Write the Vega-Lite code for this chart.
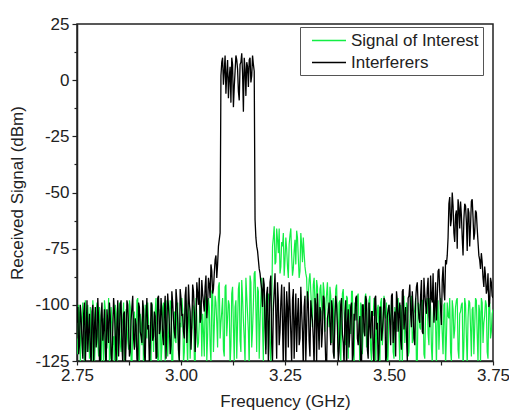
{
  "$schema": "https://vega.github.io/schema/vega-lite/v6.json",
  "width": 416,
  "height": 337,
  "autosize": {"type": "none"},
  "padding": {"left": 77, "top": 24, "right": 16, "bottom": 56},
  "background": "white",
  "config": {
    "view": {"stroke": "#222", "strokeWidth": 1.5},
    "font": "Liberation Sans"
  },
  "data": {"values": [
{"f":2.750,"g":-115,"b":-108},{"f":2.754,"g":-100,"b":-122},{"f":2.758,"g":-126,"b":-100},{"f":2.762,"g":-105,"b":-116},{"f":2.766,"g":-118,"b":-104},
{"f":2.770,"g":-98,"b":-127},{"f":2.774,"g":-121,"b":-98},{"f":2.778,"g":-109,"b":-112},{"f":2.782,"g":-101,"b":-119},{"f":2.786,"g":-127,"b":-103},
{"f":2.790,"g":-104,"b":-125},{"f":2.794,"g":-116,"b":-101},{"f":2.798,"g":-99,"b":-114},{"f":2.802,"g":-123,"b":-107},{"f":2.806,"g":-107,"b":-128},
{"f":2.810,"g":-112,"b":-99},{"f":2.814,"g":-129,"b":-111},{"f":2.818,"g":-102,"b":-120},{"f":2.822,"g":-119,"b":-102},{"f":2.826,"g":-97,"b":-117},
{"f":2.830,"g":-124,"b":-105},{"f":2.834,"g":-106,"b":-126},{"f":2.838,"g":-114,"b":-97},{"f":2.842,"g":-100,"b":-113},{"f":2.846,"g":-128,"b":-109},
{"f":2.850,"g":-103,"b":-123},{"f":2.854,"g":-117,"b":-100},{"f":2.858,"g":-110,"b":-118},{"f":2.862,"g":-99,"b":-104},{"f":2.866,"g":-125,"b":-129},
{"f":2.870,"g":-108,"b":-98},{"f":2.874,"g":-120,"b":-110},{"f":2.878,"g":-101,"b":-121},{"f":2.882,"g":-127,"b":-101},{"f":2.886,"g":-105,"b":-115},
{"f":2.890,"g":-113,"b":-106},{"f":2.894,"g":-98,"b":-124},{"f":2.898,"g":-122,"b":-99},{"f":2.902,"g":-104,"b":-112},{"f":2.906,"g":-118,"b":-117},
{"f":2.910,"g":-130,"b":-102},{"f":2.914,"g":-100,"b":-126},{"f":2.918,"g":-115,"b":-97},{"f":2.922,"g":-107,"b":-109},{"f":2.926,"g":-126,"b":-119},
{"f":2.930,"g":-99,"b":-100},{"f":2.934,"g":-121,"b":-114},{"f":2.938,"g":-103,"b":-105},{"f":2.942,"g":-111,"b":-123},{"f":2.946,"g":-128,"b":-96},
{"f":2.950,"g":-102,"b":-111},{"f":2.954,"g":-119,"b":-104},{"f":2.958,"g":-99,"b":-118},{"f":2.962,"g":-125,"b":-96},{"f":2.966,"g":-106,"b":-110},
{"f":2.970,"g":-113,"b":-101},{"f":2.974,"g":-98,"b":-122},{"f":2.978,"g":-127,"b":-94},{"f":2.982,"g":-104,"b":-107},{"f":2.986,"g":-116,"b":-115},
{"f":2.990,"g":-100,"b":-98},{"f":2.994,"g":-122,"b":-120},{"f":2.998,"g":-108,"b":-93},{"f":3.002,"g":-97,"b":-105},{"f":3.006,"g":-126,"b":-112},
{"f":3.010,"g":-103,"b":-96},{"f":3.014,"g":-115,"b":-117},{"f":3.018,"g":-99,"b":-91},{"f":3.022,"g":-124,"b":-103},{"f":3.026,"g":-110,"b":-110},
{"f":3.030,"g":-101,"b":-94},{"f":3.034,"g":-128,"b":-121},{"f":3.038,"g":-105,"b":-90},{"f":3.042,"g":-117,"b":-100},{"f":3.046,"g":-98,"b":-108},
{"f":3.050,"g":-123,"b":-89},{"f":3.054,"g":-112,"b":-99},{"f":3.058,"g":-100,"b":-92},{"f":3.062,"g":-125,"b":-106},{"f":3.066,"g":-97,"b":-88},
{"f":3.070,"g":-118,"b":-97},{"f":3.074,"g":-94,"b":-85},{"f":3.078,"g":-121,"b":-93},{"f":3.082,"g":-96,"b":-80},{"f":3.086,"g":-108,"b":-88},
{"f":3.090,"g":-92,"b":-74},{"f":3.094,"g":-115,"b":-68},{"f":3.098,"g":-103,"b":8},{"f":3.102,"g":-120,"b":-2},{"f":3.106,"g":-92,"b":11},
{"f":3.110,"g":-114,"b":3},{"f":3.114,"g":-98,"b":-8},{"f":3.118,"g":-127,"b":6},{"f":3.122,"g":-95,"b":10},{"f":3.126,"g":-110,"b":-12},
{"f":3.130,"g":-101,"b":4},{"f":3.134,"g":-124,"b":9},{"f":3.138,"g":-93,"b":-5},{"f":3.142,"g":-116,"b":7},{"f":3.146,"g":-89,"b":12},
{"f":3.150,"g":-107,"b":-14},{"f":3.154,"g":-126,"b":5},{"f":3.158,"g":-96,"b":8},{"f":3.162,"g":-112,"b":-3},{"f":3.166,"g":-87,"b":10},
{"f":3.170,"g":-119,"b":2},{"f":3.174,"g":-100,"b":7},{"f":3.178,"g":-85,"b":-62},{"f":3.182,"g":-121,"b":-74},{"f":3.186,"g":-94,"b":-80},
{"f":3.190,"g":-108,"b":-86},{"f":3.194,"g":-88,"b":-93},{"f":3.198,"g":-125,"b":-88},{"f":3.202,"g":-99,"b":-110},{"f":3.206,"g":-113,"b":-95},
{"f":3.210,"g":-95,"b":-127},{"f":3.214,"g":-118,"b":-90},{"f":3.218,"g":-102,"b":-117},{"f":3.222,"g":-70,"b":-102},{"f":3.226,"g":-82,"b":-86},
{"f":3.230,"g":-66,"b":-124},{"f":3.234,"g":-77,"b":-98},{"f":3.238,"g":-86,"b":-112},{"f":3.242,"g":-72,"b":-91},{"f":3.246,"g":-68,"b":-129},
{"f":3.250,"g":-80,"b":-104},{"f":3.254,"g":-75,"b":-94},{"f":3.258,"g":-88,"b":-119},{"f":3.262,"g":-69,"b":-100},{"f":3.266,"g":-78,"b":-126},
{"f":3.270,"g":-84,"b":-93},{"f":3.274,"g":-71,"b":-108},{"f":3.278,"g":-67,"b":-121},{"f":3.282,"g":-79,"b":-97},{"f":3.286,"g":-85,"b":-115},
{"f":3.290,"g":-73,"b":-103},{"f":3.294,"g":-70,"b":-128},{"f":3.298,"g":-83,"b":-96},{"f":3.302,"g":-88,"b":-110},{"f":3.306,"g":-96,"b":-99},
{"f":3.310,"g":-86,"b":-123},{"f":3.314,"g":-102,"b":-104},{"f":3.318,"g":-91,"b":-115},{"f":3.322,"g":-99,"b":-97},{"f":3.326,"g":-89,"b":-126},
{"f":3.330,"g":-108,"b":-108},{"f":3.334,"g":-93,"b":-101},{"f":3.338,"g":-100,"b":-119},{"f":3.342,"g":-90,"b":-96},{"f":3.346,"g":-112,"b":-113},
{"f":3.350,"g":-95,"b":-128},{"f":3.354,"g":-103,"b":-103},{"f":3.358,"g":-92,"b":-109},{"f":3.362,"g":-117,"b":-98},{"f":3.366,"g":-97,"b":-121},
{"f":3.370,"g":-104,"b":-106},{"f":3.374,"g":-91,"b":-100},{"f":3.378,"g":-121,"b":-125},{"f":3.382,"g":-98,"b":-111},{"f":3.386,"g":-106,"b":-97},
{"f":3.390,"g":-93,"b":-117},{"f":3.394,"g":-110,"b":-104},{"f":3.398,"g":-96,"b":-129},{"f":3.402,"g":-124,"b":-102},{"f":3.406,"g":-100,"b":-112},
{"f":3.410,"g":-94,"b":-99},{"f":3.414,"g":-115,"b":-122},{"f":3.418,"g":-99,"b":-107},{"f":3.422,"g":-107,"b":-96},{"f":3.426,"g":-95,"b":-118},
{"f":3.430,"g":-127,"b":-105},{"f":3.434,"g":-101,"b":-127},{"f":3.438,"g":-109,"b":-100},{"f":3.442,"g":-97,"b":-114},{"f":3.446,"g":-119,"b":-98},
{"f":3.450,"g":-103,"b":-124},{"f":3.454,"g":-96,"b":-109},{"f":3.458,"g":-125,"b":-103},{"f":3.462,"g":-105,"b":-120},{"f":3.466,"g":-98,"b":-97},
{"f":3.470,"g":-113,"b":-111},{"f":3.474,"g":-100,"b":-126},{"f":3.478,"g":-128,"b":-101},{"f":3.482,"g":-97,"b":-116},{"f":3.486,"g":-111,"b":-106},
{"f":3.490,"g":-104,"b":-98},{"f":3.494,"g":-99,"b":-123},{"f":3.498,"g":-122,"b":-102},{"f":3.502,"g":-105,"b":-108},{"f":3.506,"g":-98,"b":-96},
{"f":3.510,"g":-121,"b":-117},{"f":3.514,"g":-101,"b":-103},{"f":3.518,"g":-112,"b":-94},{"f":3.522,"g":-97,"b":-112},{"f":3.526,"g":-126,"b":-99},
{"f":3.530,"g":-104,"b":-120},{"f":3.534,"g":-100,"b":-93},{"f":3.538,"g":-117,"b":-106},{"f":3.542,"g":-99,"b":-114},{"f":3.546,"g":-123,"b":-97},
{"f":3.550,"g":-108,"b":-91},{"f":3.554,"g":-96,"b":-110},{"f":3.558,"g":-115,"b":-102},{"f":3.562,"g":-102,"b":-118},{"f":3.566,"g":-128,"b":-92},
{"f":3.570,"g":-99,"b":-100},{"f":3.574,"g":-110,"b":-108},{"f":3.578,"g":-104,"b":-89},{"f":3.582,"g":-98,"b":-113},{"f":3.586,"g":-124,"b":-95},
{"f":3.590,"g":-101,"b":-104},{"f":3.594,"g":-113,"b":-88},{"f":3.598,"g":-97,"b":-110},{"f":3.602,"g":-119,"b":-97},{"f":3.606,"g":-106,"b":-86},
{"f":3.610,"g":-100,"b":-101},{"f":3.614,"g":-127,"b":-107},{"f":3.618,"g":-98,"b":-85},{"f":3.622,"g":-109,"b":-94},{"f":3.626,"g":-103,"b":-109},
{"f":3.630,"g":-122,"b":-83},{"f":3.634,"g":-99,"b":-98},{"f":3.638,"g":-115,"b":-82},{"f":3.642,"g":-105,"b":-70},{"f":3.646,"g":-97,"b":-52},
{"f":3.650,"g":-125,"b":-62},{"f":3.654,"g":-102,"b":-56},{"f":3.658,"g":-111,"b":-72},{"f":3.662,"g":-98,"b":-58},{"f":3.666,"g":-120,"b":-53},
{"f":3.670,"g":-104,"b":-66},{"f":3.674,"g":-100,"b":-60},{"f":3.678,"g":-129,"b":-78},{"f":3.682,"g":-97,"b":-55},{"f":3.686,"g":-114,"b":-63},
{"f":3.690,"g":-106,"b":-57},{"f":3.694,"g":-99,"b":-74},{"f":3.698,"g":-123,"b":-54},{"f":3.702,"g":-101,"b":-61},{"f":3.706,"g":-110,"b":-68},
{"f":3.710,"g":-98,"b":-59},{"f":3.714,"g":-126,"b":-72},{"f":3.718,"g":-103,"b":-80},{"f":3.722,"g":-97,"b":-77},{"f":3.726,"g":-117,"b":-88},
{"f":3.730,"g":-105,"b":-83},{"f":3.734,"g":-100,"b":-95},{"f":3.738,"g":-124,"b":-86},{"f":3.742,"g":-99,"b":-99},{"f":3.746,"g":-112,"b":-90},
{"f":3.750,"g":-102,"b":-97},
{"f":2.752,"g":-122,"b":-101},{"f":2.756,"g":-104,"b":-118},{"f":2.760,"g":-113,"b":-106},{"f":2.764,"g":-99,"b":-124},{"f":2.768,"g":-128,"b":-99},
{"f":2.772,"g":-107,"b":-113},{"f":2.776,"g":-100,"b":-121},{"f":2.780,"g":-124,"b":-104},{"f":2.784,"g":-111,"b":-128},{"f":2.788,"g":-98,"b":-100},
{"f":2.792,"g":-126,"b":-110},{"f":2.796,"g":-103,"b":-119},{"f":2.800,"g":-117,"b":-97},{"f":2.804,"g":-101,"b":-125},{"f":2.808,"g":-129,"b":-105},
{"f":2.812,"g":-106,"b":-116},{"f":2.816,"g":-98,"b":-102},{"f":2.820,"g":-120,"b":-130},{"f":2.824,"g":-109,"b":-108},{"f":2.828,"g":-125,"b":-99},
{"f":2.832,"g":-101,"b":-122},{"f":2.836,"g":-118,"b":-111},{"f":2.840,"g":-130,"b":-103},{"f":2.844,"g":-104,"b":-127},{"f":2.848,"g":-115,"b":-98},
{"f":2.852,"g":-99,"b":-112},{"f":2.856,"g":-121,"b":-98},{"f":2.860,"g":-106,"b":-126},{"f":2.864,"g":-128,"b":-103},{"f":2.868,"g":-102,"b":-117},
{"f":2.872,"g":-116,"b":-100},{"f":2.876,"g":-98,"b":-123},{"f":2.880,"g":-125,"b":-107},{"f":2.884,"g":-110,"b":-96},{"f":2.888,"g":-103,"b":-120},
{"f":2.892,"g":-119,"b":-109},{"f":2.896,"g":-97,"b":-127},{"f":2.900,"g":-127,"b":-101},{"f":2.904,"g":-108,"b":-114},{"f":2.908,"g":-100,"b":-98},
{"f":2.912,"g":-123,"b":-122},{"f":2.916,"g":-112,"b":-105},{"f":2.920,"g":-99,"b":-111},{"f":2.924,"g":-118,"b":-128},{"f":2.928,"g":-126,"b":-99},
{"f":2.932,"g":-104,"b":-116},{"f":2.936,"g":-110,"b":-103},{"f":2.940,"g":-97,"b":-124},{"f":2.944,"g":-124,"b":-97},{"f":2.948,"g":-107,"b":-113},
{"f":2.952,"g":-126,"b":-97},{"f":2.956,"g":-101,"b":-114},{"f":2.960,"g":-114,"b":-102},{"f":2.964,"g":-98,"b":-124},{"f":2.968,"g":-123,"b":-95},
{"f":2.972,"g":-107,"b":-109},{"f":2.976,"g":-100,"b":-118},{"f":2.980,"g":-129,"b":-99},{"f":2.984,"g":-103,"b":-112},{"f":2.988,"g":-117,"b":-93},
{"f":2.992,"g":-99,"b":-106},{"f":2.996,"g":-125,"b":-125},{"f":3.000,"g":-110,"b":-97},{"f":3.004,"g":-102,"b":-104},{"f":3.008,"g":-121,"b":-115},
{"f":3.012,"g":-98,"b":-92},{"f":3.016,"g":-127,"b":-108},{"f":3.020,"g":-105,"b":-99},{"f":3.024,"g":-113,"b":-120},{"f":3.028,"g":-100,"b":-91},
{"f":3.032,"g":-124,"b":-103},{"f":3.036,"g":-97,"b":-112},{"f":3.040,"g":-119,"b":-95},{"f":3.044,"g":-108,"b":-88},{"f":3.048,"g":-101,"b":-106},
{"f":3.052,"g":-104,"b":-95},{"f":3.056,"g":-123,"b":-103},{"f":3.060,"g":-96,"b":-87},{"f":3.064,"g":-114,"b":-100},{"f":3.068,"g":-101,"b":-91},
{"f":3.072,"g":-126,"b":-82},{"f":3.076,"g":-93,"b":-95},{"f":3.080,"g":-110,"b":-86},{"f":3.084,"g":-99,"b":-78},{"f":3.088,"g":-119,"b":-82},
{"f":3.092,"g":-90,"b":-71},{"f":3.096,"g":-108,"b":2},{"f":3.100,"g":-97,"b":10},{"f":3.104,"g":-123,"b":4},{"f":3.108,"g":-91,"b":-6},
{"f":3.112,"g":-106,"b":9},{"f":3.116,"g":-100,"b":1},{"f":3.120,"g":-118,"b":-10},{"f":3.124,"g":-92,"b":7},{"f":3.128,"g":-125,"b":-3},
{"f":3.132,"g":-98,"b":11},{"f":3.136,"g":-109,"b":5},{"f":3.140,"g":-90,"b":-9},{"f":3.144,"g":-121,"b":8},{"f":3.148,"g":-97,"b":3},
{"f":3.152,"g":-115,"b":10},{"f":3.156,"g":-88,"b":-7},{"f":3.160,"g":-104,"b":6},{"f":3.164,"g":-128,"b":9},{"f":3.168,"g":-90,"b":-1},
{"f":3.172,"g":-111,"b":11},{"f":3.176,"g":-86,"b":4},{"f":3.180,"g":-102,"b":-70},{"f":3.184,"g":-92,"b":-76},{"f":3.188,"g":-124,"b":-84},
{"f":3.192,"g":-97,"b":-90},{"f":3.196,"g":-110,"b":-101},{"f":3.200,"g":-93,"b":-91},{"f":3.204,"g":-120,"b":-122},{"f":3.208,"g":-101,"b":-92},
{"f":3.212,"g":-96,"b":-108},{"f":3.216,"g":-126,"b":-87},{"f":3.220,"g":-74,"b":-125},{"f":3.224,"g":-65,"b":-94},{"f":3.228,"g":-81,"b":-105},
{"f":3.232,"g":-71,"b":-90},{"f":3.236,"g":-66,"b":-118},{"f":3.240,"g":-83,"b":-99},{"f":3.244,"g":-74,"b":-109},{"f":3.248,"g":-87,"b":-92},
{"f":3.252,"g":-70,"b":-127},{"f":3.256,"g":-83,"b":-101},{"f":3.260,"g":-73,"b":-90},{"f":3.264,"g":-66,"b":-113},{"f":3.268,"g":-87,"b":-98},
{"f":3.272,"g":-76,"b":-124},{"f":3.276,"g":-82,"b":-95},{"f":3.280,"g":-70,"b":-106},{"f":3.284,"g":-88,"b":-118},{"f":3.288,"g":-68,"b":-92},
{"f":3.292,"g":-81,"b":-112},{"f":3.296,"g":-77,"b":-101},{"f":3.300,"g":-86,"b":-125},{"f":3.304,"g":-100,"b":-94},{"f":3.308,"g":-89,"b":-116},
{"f":3.312,"g":-94,"b":-98},{"f":3.316,"g":-110,"b":-107},{"f":3.320,"g":-88,"b":-128},{"f":3.324,"g":-104,"b":-100},{"f":3.328,"g":-92,"b":-95},
{"f":3.332,"g":-116,"b":-120},{"f":3.336,"g":-91,"b":-103},{"f":3.340,"g":-107,"b":-112},{"f":3.344,"g":-94,"b":-97},{"f":3.348,"g":-101,"b":-126},
{"f":3.352,"g":-90,"b":-106},{"f":3.356,"g":-110,"b":-99},{"f":3.360,"g":-96,"b":-118},{"f":3.364,"g":-101,"b":-102},{"f":3.368,"g":-123,"b":-124},
{"f":3.372,"g":-93,"b":-96},{"f":3.376,"g":-106,"b":-110},{"f":3.380,"g":-99,"b":-121},{"f":3.384,"g":-126,"b":-100},{"f":3.388,"g":-95,"b":-113},
{"f":3.392,"g":-104,"b":-127},{"f":3.396,"g":-118,"b":-98},{"f":3.400,"g":-97,"b":-108},{"f":3.404,"g":-100,"b":-119},{"f":3.408,"g":-113,"b":-101},
{"f":3.412,"g":-94,"b":-125},{"f":3.416,"g":-128,"b":-104},{"f":3.420,"g":-102,"b":-97},{"f":3.424,"g":-96,"b":-115},{"f":3.428,"g":-111,"b":-109},
{"f":3.432,"g":-99,"b":-129},{"f":3.436,"g":-122,"b":-100},{"f":3.440,"g":-105,"b":-112},{"f":3.444,"g":-95,"b":-96},{"f":3.448,"g":-116,"b":-120},
{"f":3.452,"g":-98,"b":-99},{"f":3.456,"g":-120,"b":-115},{"f":3.460,"g":-104,"b":-103},{"f":3.464,"g":-97,"b":-128},{"f":3.468,"g":-127,"b":-96},
{"f":3.472,"g":-102,"b":-108},{"f":3.476,"g":-112,"b":-121},{"f":3.480,"g":-99,"b":-101},{"f":3.484,"g":-118,"b":-112},{"f":3.488,"g":-96,"b":-97},
{"f":3.492,"g":-106,"b":-126},{"f":3.496,"g":-129,"b":-105},{"f":3.500,"g":-100,"b":-100},{"f":3.504,"g":-109,"b":-118},{"f":3.508,"g":-97,"b":-95},
{"f":3.512,"g":-124,"b":-109},{"f":3.516,"g":-103,"b":-123},{"f":3.520,"g":-98,"b":-98},{"f":3.524,"g":-114,"b":-104},{"f":3.528,"g":-100,"b":-116},
{"f":3.532,"g":-127,"b":-94},{"f":3.536,"g":-96,"b":-111},{"f":3.540,"g":-108,"b":-101},{"f":3.544,"g":-101,"b":-125},{"f":3.548,"g":-121,"b":-96},
{"f":3.552,"g":-99,"b":-104},{"f":3.556,"g":-117,"b":-94},{"f":3.560,"g":-104,"b":-115},{"f":3.564,"g":-97,"b":-98},{"f":3.568,"g":-125,"b":-90},
{"f":3.572,"g":-100,"b":-106},{"f":3.576,"g":-111,"b":-96},{"f":3.580,"g":-98,"b":-112},{"f":3.584,"g":-122,"b":-88},{"f":3.588,"g":-103,"b":-100},
{"f":3.592,"g":-97,"b":-93},{"f":3.596,"g":-118,"b":-105},{"f":3.600,"g":-101,"b":-87},{"f":3.604,"g":-126,"b":-99},{"f":3.608,"g":-98,"b":-108},
{"f":3.612,"g":-109,"b":-90},{"f":3.616,"g":-104,"b":-97},{"f":3.620,"g":-120,"b":-84},{"f":3.624,"g":-97,"b":-102},{"f":3.628,"g":-113,"b":-89},
{"f":3.632,"g":-100,"b":-94},{"f":3.636,"g":-127,"b":-80},{"f":3.640,"g":-99,"b":-78},{"f":3.644,"g":-106,"b":-55},{"f":3.648,"g":-121,"b":-65},
{"f":3.652,"g":-98,"b":-50},{"f":3.656,"g":-115,"b":-68},{"f":3.660,"g":-101,"b":-60},{"f":3.664,"g":-97,"b":-75},{"f":3.668,"g":-124,"b":-57},
{"f":3.672,"g":-103,"b":-54},{"f":3.676,"g":-99,"b":-70},{"f":3.680,"g":-118,"b":-62},{"f":3.684,"g":-100,"b":-56},{"f":3.688,"g":-127,"b":-76},
{"f":3.692,"g":-98,"b":-59},{"f":3.696,"g":-110,"b":-65},{"f":3.700,"g":-102,"b":-53},{"f":3.704,"g":-122,"b":-71},{"f":3.708,"g":-97,"b":-58},
{"f":3.712,"g":-113,"b":-66},{"f":3.716,"g":-100,"b":-78},{"f":3.720,"g":-126,"b":-84},{"f":3.724,"g":-99,"b":-81},{"f":3.728,"g":-108,"b":-92},
{"f":3.732,"g":-98,"b":-87},{"f":3.736,"g":-121,"b":-93},{"f":3.740,"g":-100,"b":-101},{"f":3.744,"g":-115,"b":-88},{"f":3.748,"g":-104,"b":-96}
  ]},
  "transform": [{"fold": ["g", "b"], "as": ["series", "val"]}],
  "encoding": {
    "x": {
      "field": "f", "type": "quantitative",
      "scale": {"domain": [2.75, 3.75], "nice": false, "zero": false},
      "axis": {
        "title": "Frequency (GHz)",
        "values": [2.75, 2.875, 3.0, 3.125, 3.25, 3.375, 3.5, 3.625, 3.75],
        "labelExpr": "abs(datum.value*4 - round(datum.value*4)) < 0.001 ? format(datum.value, '.2f') : ''",
        "labelFlush": false,
        "labelOverlap": false,
        "grid": false,
        "domainColor": "#222", "domainWidth": 1.5,
        "tickColor": "#222", "tickWidth": 1.2,
        "tickSize": 4,
        "labelFontSize": 17, "labelColor": "#222", "labelPadding": 2,
        "labelFont": "Liberation Sans",
        "titleFont": "Liberation Sans", "titleFontSize": 17, "titleFontWeight": "normal",
        "titleColor": "#222", "titlePadding": 10
      }
    },
    "y": {
      "field": "val", "type": "quantitative",
      "scale": {"domain": [-125, 25], "nice": false, "zero": false},
      "axis": {
        "title": "Received Signal (dBm)",
        "values": [-125, -112.5, -100, -87.5, -75, -62.5, -50, -37.5, -25, -12.5, 0, 12.5, 25],
        "labelExpr": "datum.value % 25 == 0 ? '' + datum.value : ''",
        "labelFlush": false,
        "labelOverlap": false,
        "grid": false,
        "domainColor": "#222", "domainWidth": 1.5,
        "tickColor": "#222", "tickWidth": 1.2,
        "tickSize": {"condition": {"test": "datum.value % 25 != 0", "value": 3}, "value": 5},
        "labelFontSize": 17, "labelColor": "#222", "labelPadding": 3,
        "labelFont": "Liberation Sans",
        "titleFont": "Liberation Sans", "titleFontSize": 17, "titleFontWeight": "normal",
        "titleColor": "#222", "titlePadding": 8
      }
    },
    "color": {
      "field": "series", "type": "nominal",
      "scale": {"domain": ["g", "b"], "range": ["#12ee44", "#000000"]},
      "legend": {
        "title": null,
        "orient": "none",
        "legendX": 223,
        "legendY": 3,
        "labelExpr": "datum.label == 'g' ? 'Signal of Interest' : 'Interferers'",
        "labelFontSize": 17, "labelColor": "#222", "labelFont": "Liberation Sans",
        "symbolType": "M-1,0L3,0", "symbolSize": 289, "symbolStrokeWidth": 1.5,
        "labelOffset": 21, "symbolOffset": 7,
        "strokeColor": "#555", "padding": 4, "rowPadding": 4,
        "fillColor": "white"
      }
    }
  },
  "layer": [
    {"transform": [{"filter": "datum.series == 'g'"}], "mark": {"type": "line", "strokeWidth": 1.2, "clip": true}},
    {"transform": [{"filter": "datum.series == 'b'"}], "mark": {"type": "line", "strokeWidth": 1.3, "clip": true}}
  ]
}
